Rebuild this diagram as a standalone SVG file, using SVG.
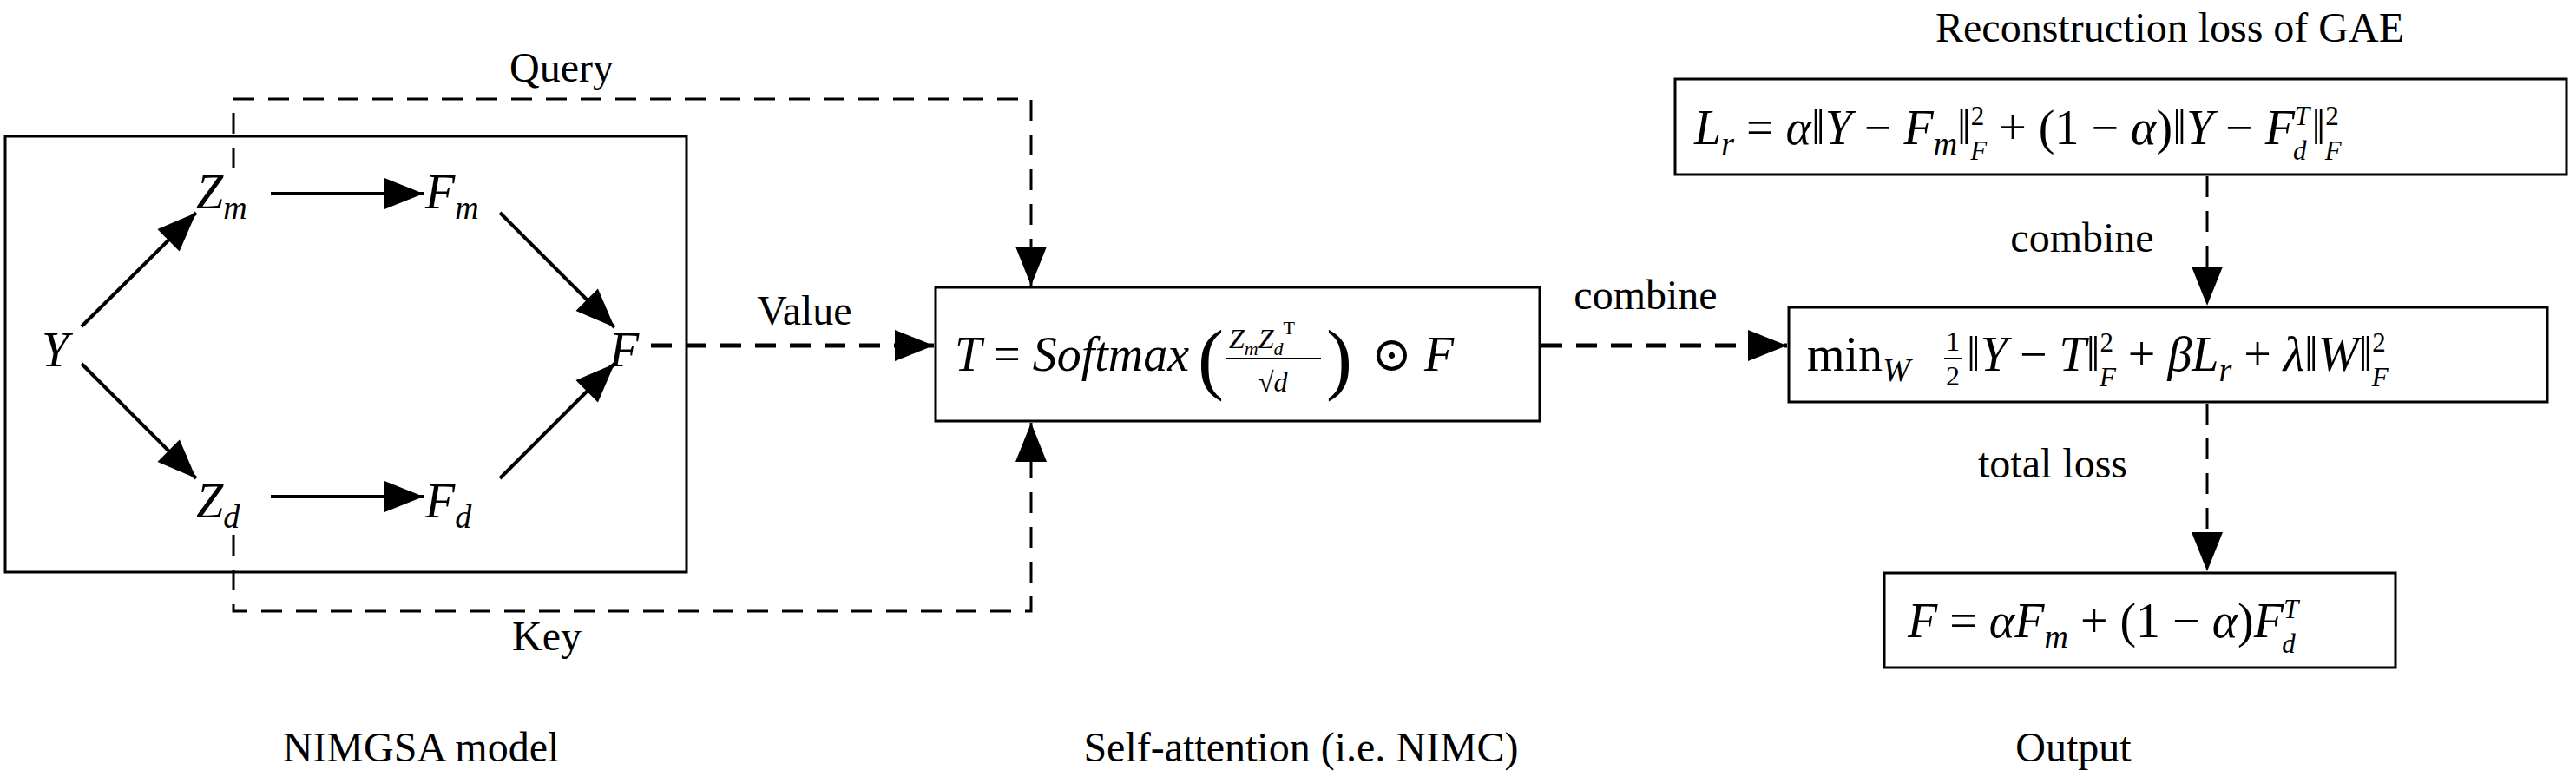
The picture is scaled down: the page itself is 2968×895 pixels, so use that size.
<svg xmlns="http://www.w3.org/2000/svg" width="2968" height="895" viewBox="0 0 2968 895" font-family="'Liberation Serif','DejaVu Serif',serif">
<style>
text{font-family:"Liberation Serif","DejaVu Serif",serif;fill:#000}
.lbl{font-size:48px;text-anchor:middle}
.m{font-size:56px;font-style:italic}
.r{font-style:normal}
.s{font-size:38px}
.t{font-size:31px}
.box{fill:none;stroke:#000;stroke-width:3}
.d{fill:none;stroke:#000;stroke-width:3;stroke-dasharray:24 16}
.db{fill:none;stroke:#000;stroke-width:5;stroke-dasharray:24 16}
.a{fill:none;stroke:#000;stroke-width:4}
</style>
<defs>
<marker id="ahb" viewBox="0 0 10 8" refX="10" refY="4" markerWidth="46" markerHeight="36" orient="auto" markerUnits="userSpaceOnUse">
<path d="M0,0 L10,4 L0,8 Z" fill="#000"/>
</marker>
</defs>

<g id="nimgsa">
<rect class="box" x="6" y="157" width="785" height="502"/>
<text class="m" x="48" y="422">Y</text>
<text class="m" x="226" y="240">Z<tspan class="s" dy="12">m</tspan></text>
<text class="m" x="490" y="240">F<tspan class="s" dy="12">m</tspan></text>
<text class="m" x="702" y="422">F</text>
<text class="m" x="226" y="596">Z<tspan class="s" dy="12">d</tspan></text>
<text class="m" x="490" y="596">F<tspan class="s" dy="12">d</tspan></text>
</g>

<g id="attn">
<rect class="box" x="1078" y="331" width="696" height="154"/>
<text class="m" x="1100" y="427">T <tspan class="r">=</tspan> Softmax</text>
<text x="1380" y="443" style="font-size:90px">(</text>
<text x="1416" y="401" style="font-size:32px;font-style:italic">Z<tspan font-size="22" dy="8">m</tspan><tspan dy="-8">Z</tspan><tspan font-size="22" dy="8">d</tspan><tspan font-size="22" font-style="normal" dy="-24">T</tspan></text>
<line x1="1412" y1="413" x2="1522" y2="413" stroke="#000" stroke-width="2"/>
<text x="1450" y="451" style="font-size:32px">√<tspan font-style="italic">d</tspan></text>
<text x="1528" y="443" style="font-size:90px">)</text>
<text class="m" x="1580" y="427"><tspan class="r">⊙</tspan> F</text>
</g>

<g id="recon">
<rect class="box" x="1930" y="91" width="1027" height="110"/>
<text class="m" x="1952" y="166">L<tspan class="s" dy="12">r</tspan><tspan class="r" dy="-12"> = </tspan>α<tspan class="r">‖</tspan>Y <tspan class="r">−</tspan> F<tspan class="s" dy="12">m</tspan><tspan class="r" dy="-12">‖</tspan><tspan class="t" font-style="normal" dy="-22">2</tspan><tspan class="t" dx="-16" dy="40">F</tspan><tspan class="r" dy="-18"> + (1 − </tspan>α<tspan class="r">)‖</tspan>Y <tspan class="r">−</tspan> F<tspan class="t" dy="-22">T</tspan><tspan class="t" dx="-19" dy="40">d</tspan><tspan class="r" dx="6" dy="-18">‖</tspan><tspan class="t" font-style="normal" dy="-22">2</tspan><tspan class="t" dx="-16" dy="40">F</tspan></text>
<text class="lbl" x="2500" y="48">Reconstruction loss of GAE</text>
</g>

<g id="total">
<rect class="box" x="2061" y="354" width="874" height="109"/>
<text class="m" x="2082" y="427"><tspan class="r">min</tspan><tspan class="s" dy="12">W</tspan></text>
<text x="2250" y="404" style="font-size:32px;text-anchor:middle">1</text>
<line x1="2240" y1="413" x2="2260" y2="413" stroke="#000" stroke-width="2"/>
<text x="2250" y="444" style="font-size:32px;text-anchor:middle">2</text>
<text class="m" x="2266" y="427"><tspan class="r">‖</tspan>Y <tspan class="r">−</tspan> T<tspan class="r">‖</tspan><tspan class="t" font-style="normal" dy="-22">2</tspan><tspan class="t" dx="-16" dy="40">F</tspan><tspan class="r" dy="-18"> + </tspan>βL<tspan class="s" dy="12">r</tspan><tspan class="r" dy="-12"> + </tspan>λ<tspan class="r">‖</tspan>W<tspan class="r">‖</tspan><tspan class="t" font-style="normal" dy="-22">2</tspan><tspan class="t" dx="-16" dy="40">F</tspan></text>
</g>

<g id="output">
<rect class="box" x="2171" y="660" width="589" height="109"/>
<text class="m" x="2198" y="734">F <tspan class="r">=</tspan> αF<tspan class="s" dy="12">m</tspan><tspan class="r" dy="-12"> + (1 − </tspan>α<tspan class="r">)</tspan>F<tspan class="t" dy="-22">T</tspan><tspan class="t" dx="-19" dy="40">d</tspan></text>
</g>

<g id="connectors">
<line class="a" x1="94" y1="376" x2="226" y2="245" marker-end="url(#ahb)"/>
<line class="a" x1="94" y1="419" x2="226" y2="551" marker-end="url(#ahb)"/>
<line class="a" x1="312" y1="223" x2="488" y2="223" marker-end="url(#ahb)"/>
<line class="a" x1="312" y1="572" x2="488" y2="572" marker-end="url(#ahb)"/>
<line class="a" x1="576" y1="245" x2="708" y2="377" marker-end="url(#ahb)"/>
<line class="a" x1="576" y1="551" x2="708" y2="419" marker-end="url(#ahb)"/>
<path class="d" d="M269,194 V114 H1188 V329" marker-end="url(#ahb)"/>
<path class="d" d="M269,616 V704 H1188 V487" marker-end="url(#ahb)"/>
<line class="db" x1="750" y1="398" x2="1076" y2="398" marker-end="url(#ahb)"/>
<line class="db" x1="1776" y1="398" x2="2059" y2="398" marker-end="url(#ahb)"/>
<line class="d" x1="2543" y1="203" x2="2543" y2="352" marker-end="url(#ahb)"/>
<line class="d" x1="2543" y1="465" x2="2543" y2="658" marker-end="url(#ahb)"/>
<text class="lbl" x="647" y="94">Query</text>
<text class="lbl" x="630" y="749">Key</text>
<text class="lbl" x="927" y="374">Value</text>
<text class="lbl" x="1896" y="356">combine</text>
<text class="lbl" x="2399" y="290">combine</text>
<text class="lbl" x="2365" y="550">total loss</text>
</g>

<text class="lbl" x="485" y="877">NIMGSA model</text>
<text class="lbl" x="1499" y="877">Self-attention (i.e. NIMC)</text>
<text class="lbl" x="2389" y="877">Output</text>
</svg>
